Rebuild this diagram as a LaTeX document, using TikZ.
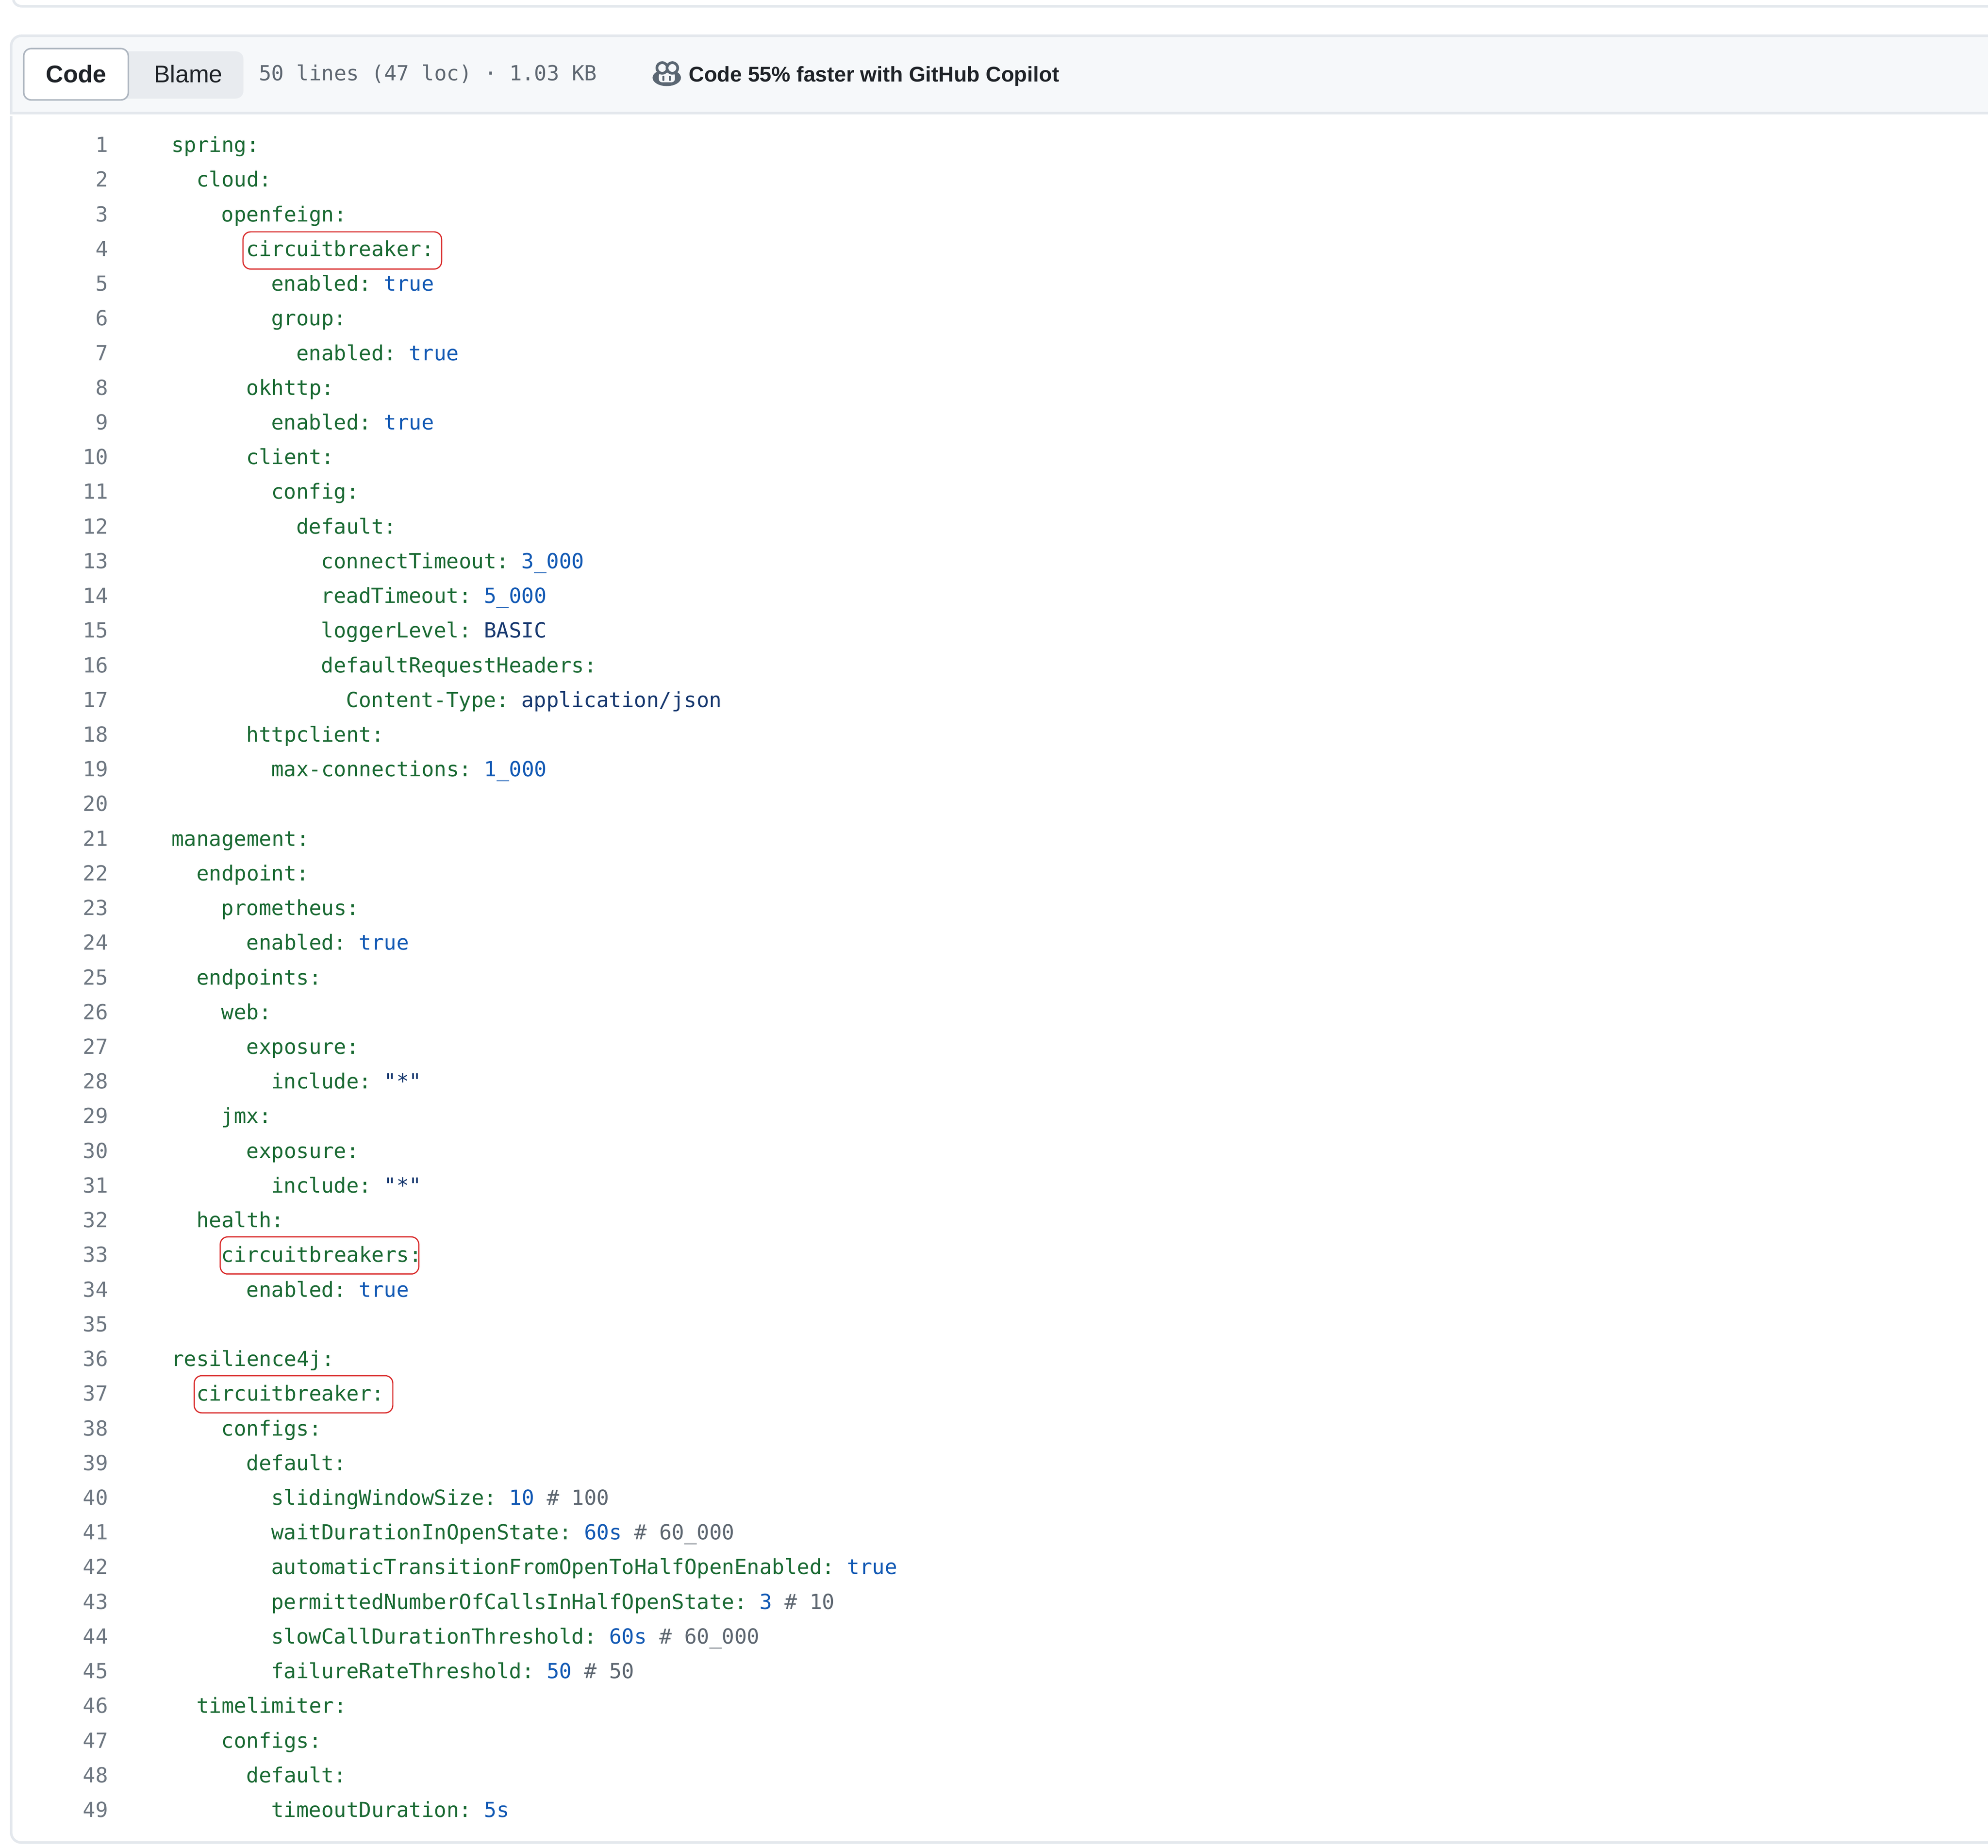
\documentclass[tikz,border=0pt]{standalone}
\usepackage{fontspec}
\setmainfont{Liberation Sans}
\setmonofont{DejaVu Sans Mono}
\definecolor{keygreen}{HTML}{1A6A33}
\definecolor{valblue}{HTML}{1259B4}
\definecolor{strnavy}{HTML}{17386F}
\definecolor{cmtgray}{HTML}{5E6771}
\definecolor{numgray}{HTML}{6E7781}
\definecolor{headbg}{HTML}{F6F8FA}
\definecolor{edgegray}{HTML}{E4E8ED}
\definecolor{blamebg}{HTML}{E8EBEF}
\definecolor{btnedge}{HTML}{AEB6C0}
\definecolor{inkdark}{HTML}{1F2328}
\definecolor{iconink}{HTML}{5A6672}
\definecolor{markred}{HTML}{D92B2B}
\newcommand{\ky}[1]{\textcolor{keygreen}{#1}}
\newcommand{\vl}[1]{\textcolor{valblue}{#1}}
\newcommand{\st}[1]{\textcolor{strnavy}{#1}}
\newcommand{\cm}[1]{\textcolor{cmtgray}{#1}}
\tikzset{
  numlabel/.style={anchor=base east,inner sep=0pt,font=\fontsize{12.3}{14}\ttfamily,text=numgray},
  codeline/.style={anchor=base west,inner sep=0pt,font=\fontsize{12.3}{14}\ttfamily},
  markbox/.style={draw=markred,line width=0.7pt,rounded corners=4.5pt,minimum width=117.5pt,minimum height=22pt,inner sep=0pt},
  tabbtn/.style={anchor=base,inner sep=0pt,font=\fontsize{14.3}{16}\selectfont,text=inkdark},
  edgeline/.style={edgegray,line width=1.5pt}
}
\begin{document}
\begin{tikzpicture}[x=0.75pt,y=-0.75pt]
  \useasboundingbox (0,0) rectangle (1568,1457.1);
  \fill[white] (0,0) rectangle (1568,1457.1);
  % bord du bloc precedent
  \draw[edgeline] (10.5,0) .. controls (11.5,3) and (13.5,5) .. (18,5) -- (1568,5);
  % bandeau
  \fill[headbg,rounded corners=6pt] (1568,28.2) -- (8.8,28.2) [sharp corners] -- (8.8,89.2) -- (1568,89.2);
  \draw[edgeline,rounded corners=6pt] (1568,28.2) -- (8.8,28.2) [sharp corners] -- (8.8,89.2) -- (1568,89.2);
  % corps
  \draw[edgeline,rounded corners=6pt] (8.8,91.5) -- (8.8,1453) -- (1568,1453);
  % boutons
  \fill[blamebg,rounded corners=4.5pt] (92,40.5) rectangle (192,77.7);
  \draw[fill=white,draw=btnedge,line width=0.9pt,rounded corners=4.4pt] (18.7,38.3) rectangle (101.2,78.8);
  \node[tabbtn,font=\fontsize{14.3}{16}\selectfont\bfseries] (codetab) at (60,65) {Code};
  \node[tabbtn] (blametab) at (148.5,65) {Blame};
  \node[anchor=base west,inner sep=0pt,font=\fontsize{12.3}{14}\ttfamily,text=cmtgray] (fileinfo) at (204,63.5) {50 lines (47 loc) · 1.03 KB};
  % icone copilot
  \fill[iconink] (525.9,61.3) ellipse (11.2 and 6.6);
  \fill[headbg,rounded corners=2pt] (519.6,57.3) rectangle (532.3,64.9);
  \draw[iconink,fill=headbg,line width=1.6pt] (522.3,53.6) circle (4.2);
  \draw[iconink,fill=headbg,line width=1.6pt] (530.3,53.6) circle (4.2);
  \draw[iconink,line width=1pt,line cap=round] (523.2,60.4) -- (523.2,63.2);
  \draw[iconink,line width=1pt,line cap=round] (528.4,60.4) -- (528.4,63.2);
  \node[anchor=base west,inner sep=0pt,font=\fontsize{12.6}{14}\selectfont\bfseries,text=inkdark] (copilotmsg) at (543,64.5) {Code 55\% faster with GitHub Copilot};
  % numeros de ligne
  \foreach \ln in {1,...,49}
    \node[numlabel] (num\ln) at (85.5,{120+(\ln-1)*27.354}) {\ln};
  % lignes : numero / retrait / texte
  \foreach \ln/\ind/\txt in {
    1/0/{\ky{spring:}},
    2/1/{\ky{cloud:}},
    3/2/{\ky{openfeign:}},
    4/3/{\ky{circuitbreaker:}},
    5/4/{\ky{enabled:} \vl{true}},
    6/4/{\ky{group:}},
    7/5/{\ky{enabled:} \vl{true}},
    8/3/{\ky{okhttp:}},
    9/4/{\ky{enabled:} \vl{true}},
    10/3/{\ky{client:}},
    11/4/{\ky{config:}},
    12/5/{\ky{default:}},
    13/6/{\ky{connectTimeout:} \vl{3\_000}},
    14/6/{\ky{readTimeout:} \vl{5\_000}},
    15/6/{\ky{loggerLevel:} \st{BASIC}},
    16/6/{\ky{defaultRequestHeaders:}},
    17/7/{\ky{Content-Type:} \st{application/json}},
    18/3/{\ky{httpclient:}},
    19/4/{\ky{max-connections:} \vl{1\_000}},
    21/0/{\ky{management:}},
    22/1/{\ky{endpoint:}},
    23/2/{\ky{prometheus:}},
    24/3/{\ky{enabled:} \vl{true}},
    25/1/{\ky{endpoints:}},
    26/2/{\ky{web:}},
    27/3/{\ky{exposure:}},
    28/4/{\ky{include:} \st{"*"}},
    29/2/{\ky{jmx:}},
    30/3/{\ky{exposure:}},
    31/4/{\ky{include:} \st{"*"}},
    32/1/{\ky{health:}},
    33/2/{\ky{circuitbreakers:}},
    34/3/{\ky{enabled:} \vl{true}},
    36/0/{\ky{resilience4j:}},
    37/1/{\ky{circuitbreaker:}},
    38/2/{\ky{configs:}},
    39/3/{\ky{default:}},
    40/4/{\ky{slidingWindowSize:} \vl{10} \cm{\# 100}},
    41/4/{\ky{waitDurationInOpenState:} \vl{60s} \cm{\# 60\_000}},
    42/4/{\ky{automaticTransitionFromOpenToHalfOpenEnabled:} \vl{true}},
    43/4/{\ky{permittedNumberOfCallsInHalfOpenState:} \vl{3} \cm{\# 10}},
    44/4/{\ky{slowCallDurationThreshold:} \vl{60s} \cm{\# 60\_000}},
    45/4/{\ky{failureRateThreshold:} \vl{50} \cm{\# 50}},
    46/1/{\ky{timelimiter:}},
    47/2/{\ky{configs:}},
    48/3/{\ky{default:}},
    49/4/{\ky{timeoutDuration:} \vl{5s}}}
    \node[codeline] (code\ln) at ({135+\ind*19.68},{120+(\ln-1)*27.354}) {\txt};
  % encadres rouges
  \node[markbox] (mark4) at (270,197.5) {};
  \node[markbox] (mark33) at (252,990) {};
  \node[markbox] (mark37) at (231.5,1099.5) {};
\end{tikzpicture}
\end{document}
